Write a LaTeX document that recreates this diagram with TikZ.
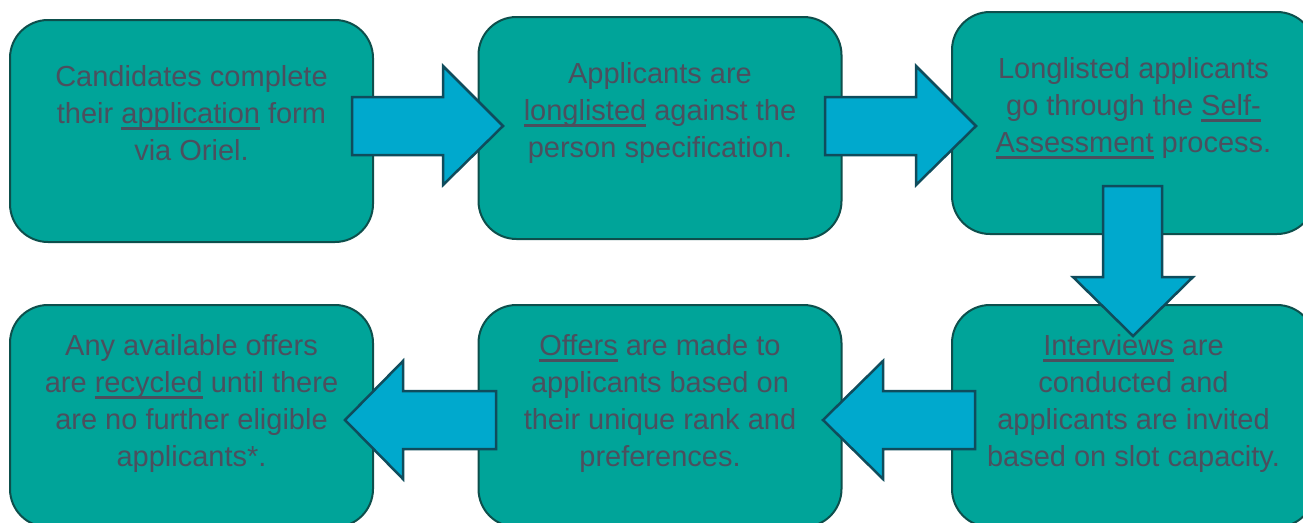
\documentclass[tikz,border=0pt]{standalone}
\usepackage{fontspec}
\setmainfont{Liberation Sans}
\definecolor{boxfill}{HTML}{00A499}
\definecolor{boxline}{HTML}{0D4F4C}
\definecolor{arrfill}{HTML}{00A9CD}
\definecolor{arrline}{HTML}{0F4C5C}
\definecolor{txtcol}{HTML}{4B4F5E}
\newcommand{\ul}[1]{\setbox0\hbox{#1}\rlap{\rule[-6.5pt]{\wd0}{2.3pt}}\box0\relax}
\begin{document}
\begin{tikzpicture}[x=1pt,y=-1pt,
  box/.style={draw=boxline, fill=boxfill, line width=2pt, rounded corners=38pt,
    minimum width=363pt, minimum height=222pt, inner sep=0pt},
  arr/.style={draw=arrline, fill=arrfill, line width=2.5pt, line join=miter},
  txt/.style={text=txtcol, align=center, anchor=north, inner sep=0pt,
    font=\fontsize{29}{37}\selectfont}]
\useasboundingbox (0,0) rectangle (1303,522);
\begin{scope}
\clip (0,0) rectangle (1303,522);
\node[box] (b1) at (191.5,131) {};
\node[box] (b2) at (660,128) {};
\node[box] (b3) at (1133.5,123) {};
\node[box] (b4) at (191.5,416) {};
\node[box] (b5) at (660,416) {};
\node[box] (b6) at (1133.5,416) {};

\node[txt] (t1) at ([yshift=-46pt]b1.north) {Candidates complete\\their \ul{application} form\\via Oriel.};
\node[txt] (t2) at ([yshift=-46pt]b2.north) {Applicants are\\\ul{longlisted} against the\\person specification.};
\node[txt] (t3) at ([yshift=-46pt]b3.north) {Longlisted applicants\\go through the \ul{Self-}\\\ul{Assessment} process.};
\node[txt] (t4) at ([yshift=-30pt]b4.north) {Any available offers\\are \ul{recycled} until there\\are no further eligible\\applicants*.};
\node[txt] (t5) at ([yshift=-30pt]b5.north) {\ul{Offers} are made to\\applicants based on\\their unique rank and\\preferences.};
\node[txt] (t6) at ([yshift=-30pt]b6.north) {\ul{Interviews} are\\conducted and\\applicants are invited\\based on slot capacity.};

% arrows b1 -> b2, b2 -> b3
\draw[arr] (352,97) -- (443,97) -- (443,66) -- (503,126) -- (443,185) -- (443,155) -- (352,155) -- cycle;
\draw[arr] (825,97) -- (916,97) -- (916,66) -- (976,126) -- (916,185) -- (916,155) -- (825,155) -- cycle;
% b3 -> b6
\draw[arr] (1103,186) -- (1162,186) -- (1162,277) -- (1193,277) -- (1133,336) -- (1073,277) -- (1103,277) -- cycle;
% b6 -> b5, b5 -> b4
\draw[arr] (975,391) -- (883,391) -- (883,361) -- (823,420) -- (883,479) -- (883,449) -- (975,449) -- cycle;
\draw[arr] (496,391) -- (403,391) -- (403,361) -- (345,420) -- (403,479) -- (403,449) -- (496,449) -- cycle;
\end{scope}
\end{tikzpicture}
\end{document}
